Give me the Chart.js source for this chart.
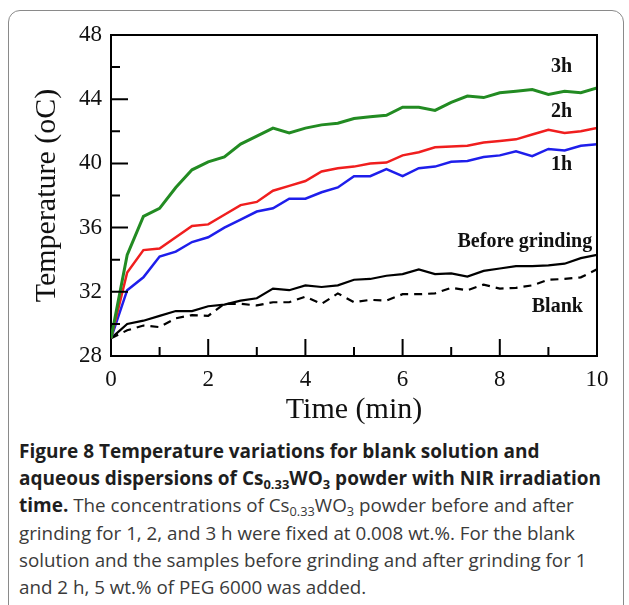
<!DOCTYPE html>
<html>
<head>
<meta charset="utf-8">
<script src="https://cdn.jsdelivr.net/npm/chart.js@4.4.1/dist/chart.umd.min.js"></script>
<style>
  html, body { margin: 0; padding: 0; background: #fff; }
  body { width: 629px; height: 605px; position: relative; overflow: hidden; }
  .frame { position: absolute; left: 8px; top: 10px; width: 616px; height: 620px;
           border: 1.5px solid #8a8a8a; border-radius: 12px; box-sizing: border-box; }
  #wrap { position: absolute; left: 0; top: 0; width: 629px; height: 430px; }
  .cap { position: absolute; left: 19px; top: 438px; font-family: "Open Sans", sans-serif;
         font-size: 18.8px; line-height: 27.2px; color: #3a3a3a; white-space: nowrap; }
  .cap b { color: #1e1e1e; font-weight: 700; font-size: 19px; }
  .cap sub { font-size: 0.68em; line-height: 0; vertical-align: -0.3em; }
</style>
</head>
<body>
<div class="frame"></div>
<div id="wrap"><canvas id="c" width="629" height="430"></canvas></div>
<div class="cap"><b>Figure 8 Temperature variations for blank solution and</b><br><b>aqueous dispersions of Cs<sub>0.33</sub>WO<sub>3</sub> powder with NIR irradiation</b><br><b>time.</b> The concentrations of Cs<sub>0.33</sub>WO<sub>3</sub> powder before and after<br>grinding for 1, 2, and 3 h were fixed at 0.008 wt.%. For the blank<br>solution and the samples before grinding and after grinding for 1<br>and 2 h, 5 wt.% of PEG 6000 was added.</div>
<script>
// Time (min), sampled every 20 s
const times = [0, 0.333, 0.667, 1, 1.333, 1.667, 2, 2.333, 2.667, 3, 3.333, 3.667, 4, 4.333, 4.667, 5,
  5.333, 5.667, 6, 6.333, 6.667, 7, 7.333, 7.667, 8, 8.333, 8.667, 9, 9.333, 9.667, 10];

const temp3h = [29.1, 34.3, 36.7, 37.2, 38.5, 39.6, 40.1, 40.4, 41.2, 41.7, 42.2, 41.9, 42.2, 42.4, 42.5, 42.8,
  42.9, 43.0, 43.5, 43.5, 43.3, 43.8, 44.2, 44.1, 44.4, 44.5, 44.6, 44.3, 44.5, 44.4, 44.7];
const temp2h = [29.1, 33.2, 34.6, 34.7, 35.4, 36.1, 36.2, 36.8, 37.4, 37.6, 38.3, 38.6, 38.9, 39.5, 39.7, 39.8,
  40.0, 40.05, 40.5, 40.7, 41.0, 41.05, 41.1, 41.3, 41.4, 41.5, 41.8, 42.1, 41.9, 42.0, 42.2];
const temp1h = [29.1, 32.1, 32.9, 34.2, 34.5, 35.1, 35.4, 36.0, 36.5, 37.0, 37.2, 37.8, 37.8, 38.2, 38.5, 39.2,
  39.2, 39.65, 39.2, 39.7, 39.8, 40.1, 40.15, 40.4, 40.5, 40.75, 40.45, 40.9, 40.8, 41.1, 41.2];
const tempBefore = [29.1, 30.0, 30.2, 30.5, 30.8, 30.8, 31.1, 31.2, 31.45, 31.6, 32.2, 32.1, 32.4, 32.3, 32.4, 32.75,
  32.8, 33.0, 33.1, 33.4, 33.1, 33.15, 32.95, 33.3, 33.45, 33.6, 33.6, 33.65, 33.75, 34.1, 34.3];
const tempBlank = [29.1, 29.6, 29.9, 29.8, 30.35, 30.55, 30.5, 31.25, 31.25, 31.15, 31.35, 31.35, 31.7, 31.25, 31.9, 31.35,
  31.5, 31.45, 31.85, 31.85, 31.9, 32.25, 32.1, 32.45, 32.2, 32.25, 32.4, 32.75, 32.8, 32.9, 33.4];

// Curve labels, anchored in data units [text, x, y]
const curveLabels = [
  ["3h", 9.49, 46.0],
  ["2h", 9.49, 43.2],
  ["1h", 9.49, 39.9],
  ["Before grinding", 9.9, 35.1],
  ["Blank", 9.71, 31.05]
];

const xTickLabels = [0, 2, 4, 6, 8, 10];
const yTickLabels = [28, 32, 36, 40, 44, 48];

const SERIF = "'Liberation Serif', 'Times New Roman', serif";
const pts = arr => arr.map((v, i) => ({ x: times[i], y: v }));

const frameAndTicks = {
  id: 'frameAndTicks',
  afterDatasetsDraw(chart) {
    const { ctx, chartArea: a, scales } = chart;
    ctx.save();
    ctx.strokeStyle = '#000';
    ctx.lineWidth = 2;
    ctx.beginPath();
    ctx.moveTo(a.left, a.top); ctx.lineTo(a.right, a.top); ctx.lineTo(a.right, a.bottom);
    ctx.stroke();
    ctx.beginPath();
    scales.y.ticks.forEach(t => {
      const py = scales.y.getPixelForValue(t.value);
      const len = yTickLabels.includes(t.value) ? 17 : 9;
      ctx.moveTo(a.left, py); ctx.lineTo(a.left + len, py);
    });
    scales.x.ticks.forEach(t => {
      const px = scales.x.getPixelForValue(t.value);
      const len = xTickLabels.includes(t.value) ? 17 : 9;
      ctx.moveTo(px, a.bottom); ctx.lineTo(px, a.bottom - len);
    });
    ctx.stroke();
    ctx.fillStyle = '#111';
    ctx.font = "bold 20px " + SERIF;
    ctx.textAlign = 'right';
    ctx.textBaseline = 'middle';
    curveLabels.forEach(([txt, x, y]) => {
      ctx.fillText(txt, scales.x.getPixelForValue(x), scales.y.getPixelForValue(y));
    });
    ctx.restore();
  }
};

new Chart(document.getElementById('c'), {
  type: 'line',
  data: {
    datasets: [
      { label: '3h', data: pts(temp3h), borderColor: 'rgb(34,139,34)', borderWidth: 3 },
      { label: '2h', data: pts(temp2h), borderColor: 'rgb(240,30,30)', borderWidth: 2.5 },
      { label: '1h', data: pts(temp1h), borderColor: 'rgb(30,30,235)', borderWidth: 2.5 },
      { label: 'Before grinding', data: pts(tempBefore), borderColor: '#000', borderWidth: 2.2 },
      { label: 'Blank', data: pts(tempBlank), borderColor: '#000', borderWidth: 2.2, borderDash: [8, 6] }
    ]
  },
  options: {
    responsive: false,
    animation: false,
    events: [],
    layout: { padding: { left: 0, right: 32, top: 35, bottom: 0 } },
    elements: { point: { radius: 0 }, line: { tension: 0, fill: false } },
    plugins: { legend: { display: false }, tooltip: { enabled: false } },
    scales: {
      x: {
        type: 'linear', min: 0, max: 10,
        grid: { display: false, drawTicks: false },
        border: { display: true, color: '#000', width: 2 },
        ticks: {
          stepSize: 1, padding: 10, color: '#111', maxRotation: 0, autoSkip: false,
          font: { family: SERIF, size: 23 },
          callback: v => xTickLabels.includes(v) ? String(v) : ''
        },
        title: { display: true, text: 'Time (min)', color: '#111',
                 font: { family: SERIF, size: 30 }, padding: { top: 0, bottom: 2 } },
        afterFit: s => { s.height = 74; }
      },
      y: {
        type: 'linear', min: 28, max: 48,
        grid: { display: false, drawTicks: false },
        border: { display: true, color: '#000', width: 2 },
        ticks: {
          stepSize: 2, padding: 9, color: '#111', autoSkip: false,
          font: { family: SERIF, size: 23 },
          callback: v => yTickLabels.includes(v) ? String(v) : ''
        },
        title: { display: true, text: 'Temperature (oC)', color: '#111',
                 font: { family: SERIF, size: 30 }, padding: { top: 29, bottom: 0 } },
        afterFit: s => { s.width = 111; }
      }
    }
  },
  plugins: [frameAndTicks]
});
</script>
</body>
</html>
